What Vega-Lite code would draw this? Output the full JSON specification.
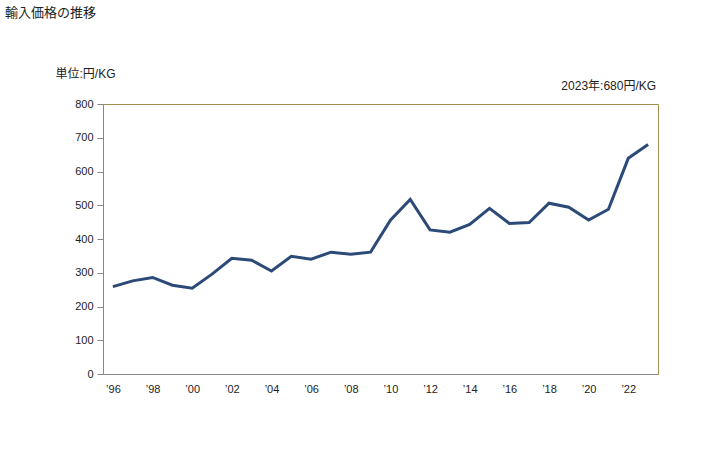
{
  "$schema": "https://vega.github.io/schema/vega-lite/v6.json",
  "width": 555,
  "height": 270,
  "autosize": {"type": "none"},
  "padding": {"left": 103, "top": 104, "right": 70, "bottom": 76},
  "background": "white",
  "config": {
    "font": "Liberation Sans, Noto Sans CJK JP",
    "view": {"stroke": "#a0904f", "strokeWidth": 1},
    "axis": {"grid": false, "domainColor": "#888888", "tickColor": "#888888", "labelColor": "#222222", "labelFontSize": 11, "titleFontWeight": "normal", "titleColor": "#222222", "titleFontSize": 12}
  },
  "title": {
    "text": "輸入価格の推移",
    "anchor": "start",
    "frame": "group",
    "fontSize": 13,
    "fontWeight": "normal",
    "color": "#222222",
    "dx": -98,
    "dy": -43
  },
  "data": {
    "values": [
      {"year": "1996", "price": 259},
      {"year": "1997", "price": 276},
      {"year": "1998", "price": 286},
      {"year": "1999", "price": 263},
      {"year": "2000", "price": 254},
      {"year": "2001", "price": 296},
      {"year": "2002", "price": 343},
      {"year": "2003", "price": 337},
      {"year": "2004", "price": 305},
      {"year": "2005", "price": 349},
      {"year": "2006", "price": 340},
      {"year": "2007", "price": 361},
      {"year": "2008", "price": 355},
      {"year": "2009", "price": 361},
      {"year": "2010", "price": 456},
      {"year": "2011", "price": 517},
      {"year": "2012", "price": 427},
      {"year": "2013", "price": 420},
      {"year": "2014", "price": 443},
      {"year": "2015", "price": 491},
      {"year": "2016", "price": 446},
      {"year": "2017", "price": 449},
      {"year": "2018", "price": 506},
      {"year": "2019", "price": 494},
      {"year": "2020", "price": 456},
      {"year": "2021", "price": 488},
      {"year": "2022", "price": 639},
      {"year": "2023", "price": 680}
    ]
  },
  "layer": [
    {
      "mark": {"type": "line", "color": "#2b4a77", "strokeWidth": 3},
      "encoding": {
        "x": {
          "field": "year", "type": "ordinal", "sort": null,
          "scale": {"type": "point", "padding": 0.5},
          "axis": {
            "orient": "bottom", "title": null, "ticks": false, "labelAngle": 0, "labelPadding": 9,
            "labelExpr": "toNumber(datum.value) % 2 == 0 ? '’' + slice(datum.value, 2) : ''"
          }
        },
        "y": {
          "field": "price", "type": "quantitative",
          "scale": {"domain": [0, 800], "nice": false},
          "axis": {
            "tickCount": 8,
            "labelOverlap": false,
            "tickSize": 6, "labelPadding": 4,
            "title": "単位:円/KG", "titleAngle": 0, "titleAlign": "left", "titleBaseline": "middle",
            "titleX": -48, "titleY": -31
          }
        }
      }
    },
    {
      "transform": [{"filter": "datum.year == '2023'"}],
      "mark": {"type": "text", "align": "right", "baseline": "middle", "dx": 8, "dy": -18, "fontSize": 12, "color": "#222222"},
      "encoding": {
        "x": {"field": "year", "type": "ordinal", "sort": null},
        "y": {"datum": 800, "type": "quantitative"},
        "text": {"value": "2023年:680円/KG"}
      }
    }
  ]
}
